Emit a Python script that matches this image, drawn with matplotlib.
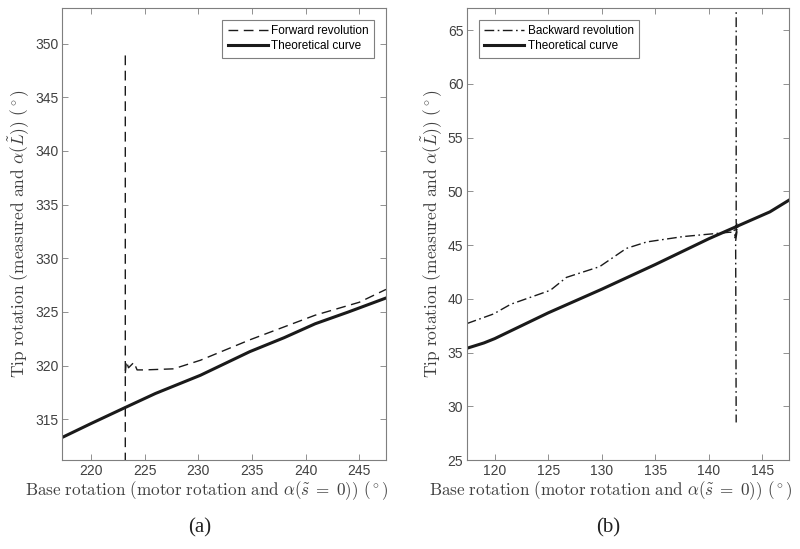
import numpy as np
import matplotlib
matplotlib.use("Agg")
import matplotlib.pyplot as plt

plt.rcParams["font.family"] = "Liberation Sans"
plt.rcParams["mathtext.fontset"] = "cm"

GRAY = "#404040"
SPINE = "#7f7f7f"
LINE = "#1a1a1a"

# ── (a) forward revolution ───────────────────────────────────────────────────
theo_a_x = [217.3, 220, 223.2, 226, 230.2, 234.8, 238, 240.9, 244, 247.5]
theo_a_y = [313.3, 314.6, 316.1, 317.4, 319.1, 321.3, 322.6, 323.9, 325.0, 326.3]

fwd_x = [223.2, 223.2, np.nan, 223.2, 223.3, 223.5, 223.7, 224.0, 224.3, 225,
         227.7, 230.2, 234.8, 240.9, 245, 247.5]
fwd_y = [348.9, 305, np.nan, 319.3, 320.4, 319.8, 320.0, 320.3, 319.6, 319.6,
         319.7, 320.5, 322.4, 324.7, 325.9, 327.1]

# ── (b) backward revolution ──────────────────────────────────────────────────
theo_b_x = [117.4, 119, 120, 122.5, 125, 130, 135, 140, 142.5, 145.7, 147.5]
theo_b_y = [35.4, 35.9, 36.3, 37.5, 38.7, 40.9, 43.2, 45.6, 46.7, 48.1, 49.2]

bwd_x = [117.4, 119.9, 121.5, 125.2, 126.7, 129.8, 132.3, 134.2, 137.6, 141.9,
         142.3, 142.6, 142.4, 142.7, 142.5, 142.55, np.nan, 142.55, 142.55]
bwd_y = [37.7, 38.6, 39.5, 40.8, 42.0, 43.0, 44.7, 45.3, 45.8, 46.2,
         46.2, 47.0, 45.6, 46.8, 45.4, 28.5, np.nan, 69, 47]

XLABEL = r"$\mathrm{Base\ rotation\ (motor\ rotation\ and\ }\alpha(\tilde{s}\;=\;0))\ ({}^\circ)$"
YLABEL = r"$\mathrm{Tip\ rotation\ (measured\ and\ }\alpha(\tilde{L}))\ ({}^\circ)$"


def _style(ax):
    for s in ax.spines.values():
        s.set_color(SPINE)
        s.set_linewidth(0.8)
    ax.tick_params(direction="in", top=True, right=True, colors=SPINE,
                   labelcolor=GRAY, labelsize=10, length=4, width=0.6, pad=2.5)
    ax.set_xlabel(XLABEL, fontsize=12.3, color=GRAY)
    ax.xaxis.set_label_coords(0.447, -0.043)
    ax.set_ylabel(YLABEL, fontsize=12.5, color=GRAY, labelpad=3)


def _legend(ax, loc):
    ax.legend(loc=loc, fontsize=8.5, frameon=True, fancybox=False,
              edgecolor=SPINE, framealpha=1, handlelength=3.4,
              borderaxespad=1.0, borderpad=0.45, labelspacing=0.25,
              handletextpad=0.3).get_frame().set_linewidth(0.8)


fig = plt.figure(figsize=(8, 5.49), dpi=100)

ax1 = fig.add_axes([0.0775, 0.162, 0.405, 0.823])
ax1.plot(fwd_x, fwd_y, color=LINE, lw=1.0, dashes=(7, 4), label="Forward revolution")
ax1.plot(theo_a_x, theo_a_y, color=LINE, lw=2.2, label="Theoretical curve")
ax1.set_xlim(217.3, 247.5)
ax1.set_ylim(311.2, 353.3)
ax1.set_xticks(np.arange(220, 246, 5))
ax1.set_yticks(np.arange(315, 351, 5))
_style(ax1)
_legend(ax1, "upper right")

ax2 = fig.add_axes([0.5835, 0.162, 0.403, 0.823])
ax2.plot(bwd_x, bwd_y, color=LINE, lw=1.0, dashes=(7, 2.5, 1.2, 2.5), label="Backward revolution")
ax2.plot(theo_b_x, theo_b_y, color=LINE, lw=2.2, label="Theoretical curve")
ax2.set_xlim(117.4, 147.5)
ax2.set_ylim(25, 67.05)
ax2.set_xticks(np.arange(120, 146, 5))
ax2.set_yticks(np.arange(25, 66, 5))
_style(ax2)
_legend(ax2, "upper left")

fig.text(0.25, 0.038, "(a)", ha="center", va="center", fontsize=15,
         family="Liberation Serif", color="#222222")
fig.text(0.76, 0.038, "(b)", ha="center", va="center", fontsize=15,
         family="Liberation Serif", color="#222222")

fig.savefig("out.png", dpi=100, facecolor="white")
